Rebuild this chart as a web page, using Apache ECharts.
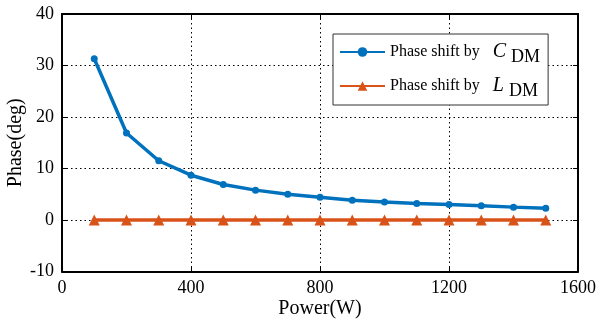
<!DOCTYPE html>
<html>
<head>
<meta charset="utf-8">
<script src="https://cdn.jsdelivr.net/npm/echarts@6/dist/echarts.min.js"></script>
<style>html,body{margin:0;padding:0;background:#fff;}#c{width:600px;height:330px;}</style>
</head>
<body>
<div id="c"></div>
<script>
const power = [100,200,300,400,500,600,700,800,900,1000,1100,1200,1300,1400,1500];
const phaseC = [31.3,16.9,11.5,8.7,6.9,5.8,5.0,4.4,3.85,3.5,3.2,3.0,2.75,2.5,2.3];
const phaseL = [0,0,0,0,0,0,0,0,0,0,0,0,0,0,0];
const seriesNames = ['Phase shift by C_DM','Phase shift by L_DM'];
const xTicks = [0,400,800,1200,1600];
const yTicks = [-10,0,10,20,30,40];

const FONT = 'Liberation Serif';
const chart = echarts.init(document.getElementById('c'), null, {renderer:'canvas'});
const blue = '#0072BD', orange = '#D95319';
const axBase = {
  axisLine:{show:true, onZero:false, lineStyle:{color:'#000', width:2}},
  axisTick:{show:true, inside:true, length:5, lineStyle:{color:'#000', width:1}},
};
chart.setOption({
  animation:false,
  backgroundColor:'#fff',
  textStyle:{fontFamily:FONT},
  grid:{left:62, right:22, top:14, bottom:58.5, containLabel:false, outerBoundsMode:'none'},
  legend:{
    orient:'vertical', left:333, top:34,
    backgroundColor:'#fff', borderColor:'#333', borderWidth:1,
    padding:[8,8,5,6], itemGap:10, itemWidth:45, itemHeight:12,
    data:seriesNames,
    formatter:function(n){
      const parts = n.split(' by ');
      const sym = parts[1].split('_');
      return 'Phase shift by{i|' + sym[0] + '}{s|' + sym[1] + '}';
    },
    textStyle:{fontFamily:FONT, fontSize:16, color:'#000',
      rich:{
        i:{fontFamily:FONT, fontSize:20, fontStyle:'italic', color:'#000', padding:[0,0,0,13]},
        s:{fontFamily:FONT, fontSize:18, color:'#000', padding:[10,6,0,5]}
      }
    }
  },
  xAxis:[
    Object.assign({type:'value', min:xTicks[0], max:xTicks[xTicks.length-1], interval:400,
      name:'Power(W)', nameLocation:'middle', nameGap:27, nameMoveOverlap:false,
      nameTextStyle:{fontFamily:FONT, fontSize:20, color:'#000'},
      axisLabel:{fontFamily:FONT, fontSize:18, color:'#000', margin:8, formatter:v=>String(v)},
      splitLine:{show:true, lineStyle:{color:'#000', type:[1.5,3], width:1}}}, axBase),
    Object.assign({type:'value', position:'top', min:xTicks[0], max:xTicks[xTicks.length-1], interval:400,
      axisLabel:{show:false}, splitLine:{show:false}}, axBase)
  ],
  yAxis:[
    Object.assign({type:'value', min:yTicks[0], max:yTicks[yTicks.length-1], interval:10,
      name:'Phase(deg)', nameLocation:'middle', nameGap:36, nameRotate:90, nameMoveOverlap:false,
      nameTextStyle:{fontFamily:FONT, fontSize:20, color:'#000'},
      axisLabel:{fontFamily:FONT, fontSize:18, color:'#000', margin:8, formatter:v=>String(v)},
      splitLine:{show:true, lineStyle:{color:'#000', type:[1.5,3], width:1}}}, axBase),
    Object.assign({type:'value', position:'right', min:yTicks[0], max:yTicks[yTicks.length-1], interval:10,
      axisLabel:{show:false}, splitLine:{show:false}}, axBase)
  ],
  series:[
    {name:seriesNames[0], type:'line', data:power.map((p,i)=>[p,phaseC[i]]),
      symbol:'circle', symbolSize:7, color:blue,
      lineStyle:{color:blue, width:3.5}, itemStyle:{color:blue}, z:3},
    {name:seriesNames[1], type:'line', data:power.map((p,i)=>[p,phaseL[i]]),
      symbol:'triangle', symbolSize:11, color:orange,
      lineStyle:{color:orange, width:3.5}, itemStyle:{color:orange}, z:2}
  ]
});
</script>
</body>
</html>
